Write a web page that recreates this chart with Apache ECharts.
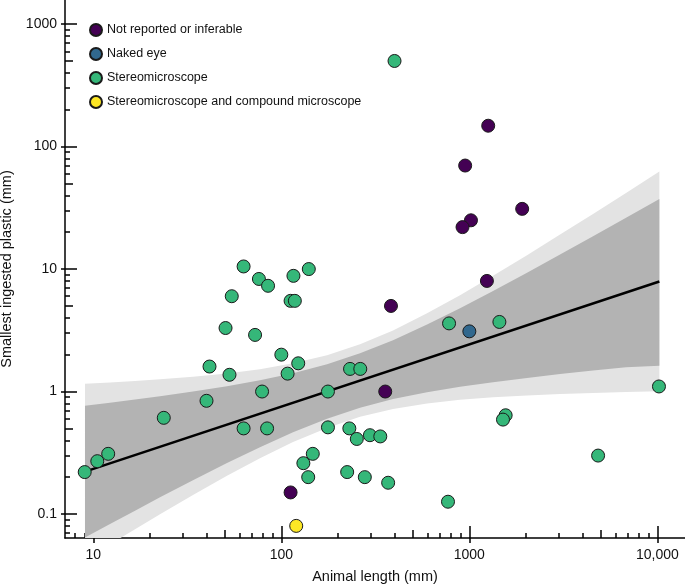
<!DOCTYPE html>
<html><head><meta charset="utf-8">
<script src="https://cdn.jsdelivr.net/npm/echarts@6/dist/echarts.min.js"></script>
<style>html,body{margin:0;padding:0;background:#fff}#c{width:685px;height:584px}</style>
</head><body><div id="c"></div>
<script>
// ---- Data ----
const groupNames = ['Not reported or inferable', 'Naked eye', 'Stereomicroscope', 'Stereomicroscope and compound microscope'];
const groupColors = ['#440154', '#31688e', '#35b779', '#fde725'];

// [animal length (mm), smallest ingested plastic (mm)]
const notReported = [[1260,148],[950,70],[1910,31],[1020,25],[920,22],[1240,8],[383,5],[357,1.0],[112,0.15]];
const nakedEye = [[1000,3.1]];
const stereo = [[9,0.22],[10.5,0.27],[12,0.31],[23.7,0.61],[40,0.84],[41.5,1.6],[53,1.37],[50.5,3.3],[63,0.5],[84,0.5],
  [72.5,2.9],[100,2.0],[123,1.7],[108,1.4],[79,1.0],[177,1.0],[232,1.53],[263,1.53],[780,3.6],[1445,3.7],
  [10200,1.1],[177,0.51],[230,0.5],[252,0.41],[296,0.44],[336,0.43],[147,0.31],[131,0.26],[139,0.2],[224,0.22],
  [278,0.2],[370,0.18],[770,0.126],[1560,0.64],[1510,0.59],[4840,0.3],[400,500],[63,10.5],[76,8.3],[85,7.3],
  [116,8.8],[140,10],[54.5,6.0],[112,5.5],[118,5.5]];
const stereoCompound = [[120,0.08]];

// regression fit line
const fitX = [9.03, 10250];
const fitY = [0.222, 7.92];

// confidence bands
const bandX =      [9.03, 12.27, 16.67, 22.63, 33.9, 51.4, 77.0, 115.4, 175.1, 262.2, 392.8, 595.7, 892.4, 1337, 2027, 3037, 4550, 6815, 10250];
const outerUpper = [1.158, 1.186, 1.220, 1.258, 1.320, 1.405, 1.523, 1.698, 1.981, 2.431, 3.157, 4.351, 6.125, 8.80, 12.98, 19.11, 28.2, 41.8, 62.5];
const outerLower = [0.0425, 0.0566, 0.0752, 0.0996, 0.1429, 0.2053, 0.2851, 0.3867, 0.5048, 0.622, 0.721, 0.7996, 0.8555, 0.897, 0.929, 0.954, 0.974, 0.989, 1.004];
const innerUpper = [0.766, 0.811, 0.861, 0.916, 1.0, 1.105, 1.235, 1.411, 1.670, 2.049, 2.626, 3.520, 4.788, 6.615, 9.337, 13.14, 18.51, 26.2, 37.4];
const innerLower = [0.0642, 0.0828, 0.1065, 0.1368, 0.1887, 0.2611, 0.3516, 0.4652, 0.5989, 0.7377, 0.867, 0.9888, 1.094, 1.193, 1.292, 1.388, 1.483, 1.578, 1.627];

// axis ticks / labels
const xMajor = [10, 100, 1000, 10000];
const xMajorLabels = ['10', '100', '1000', '10,000'];
const xMedium = [50, 500, 5000];
const xMinor = [8, 9, 20, 30, 40, 60, 70, 80, 90, 200, 300, 400, 600, 700, 800, 900, 2000, 3000, 4000, 6000, 7000, 8000, 9000];
const yMajor = [0.1, 1, 10, 100, 1000];
const yMajorLabels = ['0.1', '1', '10', '100', '1000'];
const yMedium = [0.5, 5, 50, 500];
const yMinor = [0.07, 0.08, 0.09, 0.2, 0.3, 0.4, 0.6, 0.7, 0.8, 0.9, 2, 3, 4, 6, 7, 8, 9, 20, 30, 40, 60, 70, 80, 90, 200, 300, 400, 600, 700, 800, 900];

const xMin = 7.07, xMax = 14030, yMin = 0.0637, yMax = 1573;

// ---- Chart ----
const FONT = '"Liberation Sans", Arial, Helvetica, sans-serif';
const INK = '#111';
const tickLine = {color: '#000', width: 1.5};

function xAx(extra) {
  return Object.assign({type: 'log', logBase: 10, min: xMin, max: xMax, position: 'bottom', gridIndex: 0, offset: 0,
    splitLine: {show: false}, axisLine: {show: false}, axisLabel: {show: false}, axisTick: {show: false}}, extra);
}
function yAx(extra) {
  return Object.assign({type: 'log', logBase: 10, min: yMin, max: yMax, position: 'left', gridIndex: 0, offset: 0,
    splitLine: {show: false}, axisLine: {show: false}, axisLabel: {show: false}, axisTick: {show: false}}, extra);
}

function bandSeries(upper, lower, color, z) {
  return {
    type: 'custom', xAxisIndex: 0, yAxisIndex: 0, z: z, clip: true, silent: true,
    data: bandX.map((x, i) => [x, upper[i], lower[i]]),
    encode: {x: 0, y: 1},
    renderItem: function (params, api) {
      if (params.dataIndex !== 0) return null;
      const pts = [];
      for (let i = 0; i < bandX.length; i++) pts.push(api.coord([bandX[i], upper[i]]));
      for (let i = bandX.length - 1; i >= 0; i--) pts.push(api.coord([bandX[i], lower[i]]));
      const cs = params.coordSys;
      return {
        type: 'group',
        clipPath: {type: 'rect', shape: {x: cs.x, y: cs.y, width: cs.width, height: cs.height}},
        children: [{type: 'polygon', shape: {points: pts}, style: {fill: color, stroke: null}}]
      };
    }
  };
}

function scatterSeries(name, data, color) {
  return {
    name: name, type: 'scatter', xAxisIndex: 0, yAxisIndex: 0, z: 5,
    symbol: 'circle', symbolSize: 13,
    itemStyle: {color: color, borderColor: '#1a1a1a', borderWidth: 1, opacity: 1},
    data: data
  };
}

const chart = echarts.init(document.getElementById('c'), null, {renderer: 'canvas'});
chart.setOption({
  animation: false,
  backgroundColor: '#fff',
  textStyle: {fontFamily: FONT},
  grid: {left: 65, right: 0, top: 0, bottom: 46, containLabel: false, outerBoundsMode: 'none'},
  legend: {
    orient: 'vertical', left: 84, top: 18, itemWidth: 12, itemHeight: 12, itemGap: 10,
    icon: 'circle', selectedMode: false,
    textStyle: {fontFamily: FONT, fontSize: 12.5, color: INK, lineHeight: 14, padding: [0, 0, 0, 0]},
    data: groupNames
  },
  xAxis: [
    xAx({
      name: 'Animal length (mm)', nameLocation: 'middle', nameGap: 31,
      nameTextStyle: {fontFamily: FONT, fontSize: 14.5, color: INK},
      axisLine: {show: true, onZero: false, lineStyle: {color: '#000', width: 1.5}},
      axisTick: {show: true, inside: true, length: 12, customValues: xMajor, lineStyle: tickLine},
      axisLabel: {show: true, customValues: xMajor, margin: 10, fontSize: 14, color: INK, fontFamily: FONT,
        formatter: v => { const i = xMajor.findIndex(m => Math.abs(m - v) / m < 1e-6); return i >= 0 ? xMajorLabels[i] : ''; }}
    }),
    xAx({axisTick: {show: true, inside: false, length: 5, customValues: xMajor, lineStyle: tickLine}}),
    xAx({axisTick: {show: true, inside: true, length: 8, customValues: xMedium, lineStyle: tickLine}}),
    xAx({axisTick: {show: true, inside: true, length: 5, customValues: xMinor, lineStyle: tickLine}})
  ],
  yAxis: [
    yAx({
      name: 'Smallest ingested plastic (mm)', nameLocation: 'middle', nameGap: 49, nameRotate: 90,
      nameTextStyle: {fontFamily: FONT, fontSize: 14.5, color: INK},
      axisLine: {show: true, onZero: false, lineStyle: {color: '#000', width: 1.5}},
      axisTick: {show: true, inside: true, length: 12, customValues: yMajor, lineStyle: tickLine},
      axisLabel: {show: true, customValues: yMajor, margin: 8, fontSize: 14, color: INK, fontFamily: FONT,
        formatter: v => { const i = yMajor.findIndex(m => Math.abs(m - v) / m < 1e-6); return i >= 0 ? yMajorLabels[i] : ''; }}
    }),
    yAx({axisTick: {show: true, inside: false, length: 4, customValues: yMajor, lineStyle: tickLine}}),
    yAx({axisTick: {show: true, inside: true, length: 8, customValues: yMedium, lineStyle: tickLine}}),
    yAx({axisTick: {show: true, inside: true, length: 5, customValues: yMinor, lineStyle: tickLine}})
  ],
  series: [
    bandSeries(outerUpper, outerLower, '#e3e3e3', 1),
    bandSeries(innerUpper, innerLower, '#b3b3b3', 2),
    {
      type: 'line', xAxisIndex: 0, yAxisIndex: 0, z: 3, silent: true,
      showSymbol: false, symbol: 'none',
      lineStyle: {color: '#000', width: 2.5},
      data: fitX.map((x, i) => [x, fitY[i]])
    },
    scatterSeries(groupNames[0], notReported, groupColors[0]),
    scatterSeries(groupNames[1], nakedEye, groupColors[1]),
    scatterSeries(groupNames[2], stereo, groupColors[2]),
    scatterSeries(groupNames[3], stereoCompound, groupColors[3])
  ]
});
</script>
</body></html>
